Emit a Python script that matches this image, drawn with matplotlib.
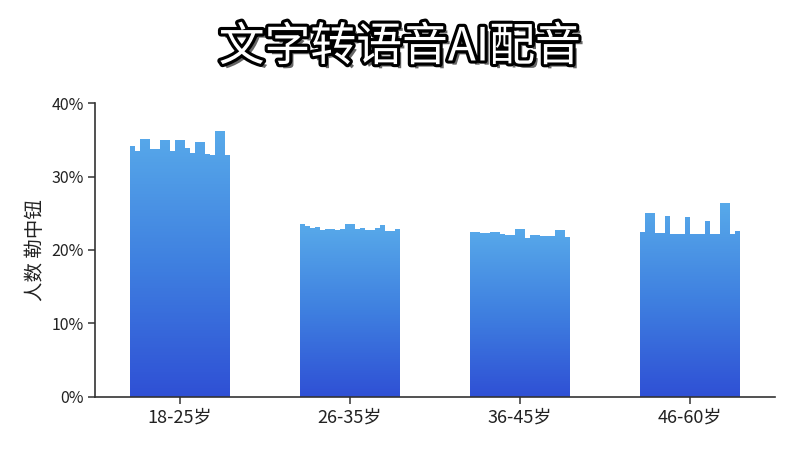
import matplotlib
matplotlib.use('Agg')
import matplotlib.pyplot as plt
import matplotlib.patheffects as pe
from matplotlib.path import Path
from matplotlib.colors import LinearSegmentedColormap
import numpy as np

plt.rcParams['font.family'] = ['Noto Sans CJK SC', 'DejaVu Sans']

# chart data
title = '文字转语音AI配音'
y_label = '人数 勒中钮'
categories = ['18-25岁', '26-35岁', '36-45岁', '46-60岁']
y_ticks = [0, 10, 20, 30, 40]
y_tick_labels = ['0%', '10%', '20%', '30%', '40%']

# each group is drawn as narrow columns with a jagged top (values in %)
group_18_25 = [34.1, 33.5, 35.1, 35.1, 33.7, 33.7, 35.0, 35.0, 33.5, 34.9,
               34.9, 33.9, 33.2, 34.7, 34.7, 33.1, 32.9, 36.2, 36.2, 32.9]
group_26_35 = [23.5, 23.2, 23.0, 23.1, 22.7, 22.9, 22.9, 22.7, 22.9, 23.6,
               23.6, 22.9, 23.0, 22.7, 22.7, 23.0, 23.4, 22.6, 22.6, 22.9]
group_36_45 = [22.5, 22.4, 22.3, 22.3, 22.4, 22.4, 22.2, 22.1, 22.1, 22.9,
               22.9, 21.7, 22.1, 22.1, 21.9, 21.9, 21.9, 22.7, 22.7, 21.8]
group_46_60 = [22.4, 25.0, 25.0, 22.3, 22.3, 24.6, 22.2, 22.2, 22.2, 24.5,
               22.2, 22.2, 22.2, 24.0, 22.2, 22.2, 26.4, 26.4, 22.2, 22.6]
groups = [group_18_25, group_26_35, group_36_45, group_46_60]

group_width = 0.59
grad = LinearSegmentedColormap.from_list('bar', ['#2f50d5', '#3f80e0', '#58aaea'])

fig = plt.figure(figsize=(8, 4.5), dpi=100)
ax = fig.add_axes([0.11875, 0.1178, 0.85, 0.6533])

x_centers = np.arange(len(categories))
for xc, vals in zip(x_centers, groups):
    n = len(vals)
    w = group_width / n
    xs = xc - group_width / 2 + w * (np.arange(n) + 0.5)
    rects = ax.bar(xs, vals, width=w, color='none', edgecolor='none', linewidth=0)
    # clip a vertical gradient to the group outline
    paths = [r.get_path().transformed(r.get_patch_transform()) for r in rects]
    outline = Path.make_compound_path(*paths)
    top = max(vals)
    g = np.linspace(0, 1, 256).reshape(-1, 1)
    im = ax.imshow(g, cmap=grad, origin='lower', aspect='auto',
                   extent=[xc - group_width / 2, xc + group_width / 2, 0, top],
                   zorder=2)
    im.set_clip_path(outline, transform=ax.transData)

ax.set_xlim(-0.5, 3.5)
ax.set_ylim(0, 40)
ax.set_xticks(x_centers)
ax.set_xticklabels(categories, fontsize=13, color='#222222')
ax.set_yticks(y_ticks)
ax.set_yticklabels(y_tick_labels, fontsize=11.5, color='#222222')
ax.tick_params(axis='both', direction='out', length=5, width=1.1, color='#333333', pad=3)

for side in ['top', 'right']:
    ax.spines[side].set_visible(False)
for side in ['left', 'bottom']:
    ax.spines[side].set_color('#333333')
    ax.spines[side].set_linewidth(1.2)

ax.set_ylabel(y_label, fontsize=14, color='#222222')
ax.yaxis.set_label_coords(-0.072, 0.5)

fig.text(0.5, 0.895, title, ha='center', va='center', fontsize=33,
         fontweight='medium', color='white',
         path_effects=[pe.SimplePatchShadow(offset=(3, -3), shadow_rgbFace='black', alpha=0.6),
                       pe.withStroke(linewidth=4.5, foreground='black')])

fig.savefig('out.png', dpi=100)
